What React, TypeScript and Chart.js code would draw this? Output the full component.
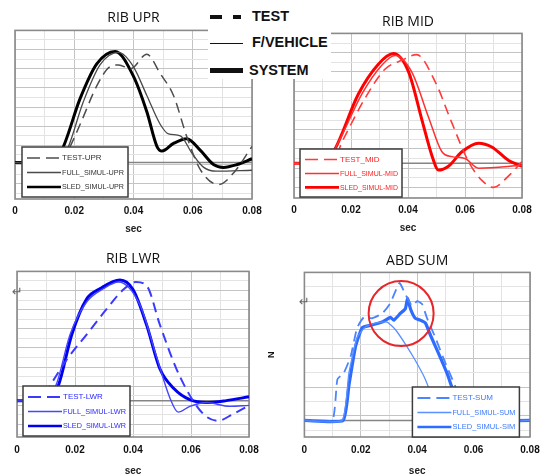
import { useEffect, useRef } from "react";
import { Chart, registerables } from "chart.js";
Chart.register(...registerables);

// ---------------- data ----------------
const X_TICK_VALUES = [0, 0.01, 0.02, 0.03, 0.04, 0.05, 0.06, 0.07, 0.08];
const X_TICK_LABELS = ["0", "", "0.02", "", "0.04", "", "0.06", "", "0.08"];
const X_TITLE = "sec";
const Y_TITLE_SUM = "N";

const TITLES = ["RIB UPR", "RIB MID", "RIB LWR", "ABD SUM"];
const LABELS_UPR = ["TEST-UPR", "FULL_SIMUL-UPR", "SLED_SIMUL-UPR"];
const LABELS_MID = ["TEST_MID", "FULL_SIMUL-MID", "SLED_SIMUL-MID"];
const LABELS_LWR = ["TEST-LWR", "FULL_SIMUL-LWR", "SLED_SIMUL-LWR"];
const LABELS_SUM = ["TEST-SUM", "FULL_SIMUL-SUM", "SLED_SIMUL-SIM"];
const TOP_LEGEND = ["TEST", "F/VEHICLE", "SYSTEM"];

// RIB UPR
const UPR_TEST_T = [0, 0.0155, 0.018, 0.022, 0.0276, 0.032, 0.035, 0.039, 0.0445, 0.049, 0.0535, 0.058, 0.0625, 0.0687, 0.074, 0.08];
const UPR_TEST_V = [0, 0, 1.3, 4.0, 8.0, 10.0, 10.2, 9.8, 11.3, 9.3, 7.0, 2.7, -0.7, -2.3, -1.0, 1.7];
const UPR_FULL_T = [0, 0.013, 0.0175, 0.023, 0.0287, 0.035, 0.04, 0.0445, 0.049, 0.0518, 0.0558, 0.0597, 0.0637, 0.068, 0.08];
const UPR_FULL_V = [0, 0, 1.3, 6.3, 10.2, 11.5, 10.0, 7.0, 4.0, 3.0, 2.8, 1.0, -0.5, -0.9, -0.8];
const UPR_SLED_T = [0, 0.012, 0.0158, 0.022, 0.0276, 0.0338, 0.04, 0.0445, 0.0479, 0.0496, 0.0535, 0.058, 0.0625, 0.067, 0.0704, 0.075, 0.08];
const UPR_SLED_V = [0, 0, 1.3, 6.7, 10.3, 11.6, 9.0, 5.3, 1.7, 1.2, 2.0, 2.5, 1.3, -0.2, -0.5, -0.2, 0.4];

// RIB MID
const MID_TEST_T = [0, 0.013, 0.0173, 0.025, 0.032, 0.0378, 0.043, 0.0495, 0.0554, 0.0612, 0.066, 0.07, 0.0753, 0.08];
const MID_TEST_V = [0, 0, 2.5, 6.8, 9.8, 10.7, 11.3, 8.5, 4.2, 0.2, -1.8, -2.5, -1.3, 0.2];
const MID_FULL_T = [0, 0.011, 0.0156, 0.0238, 0.0308, 0.0355, 0.0413, 0.0472, 0.0519, 0.0554, 0.06, 0.0648, 0.08];
const MID_FULL_V = [0, 0, 2.2, 7.2, 10.2, 11.2, 9.5, 4.8, 1.2, 0.7, 0.5, -0.5, -0.2];
const MID_SLED_T = [0, 0.0105, 0.0144, 0.0226, 0.0296, 0.0349, 0.0402, 0.0449, 0.0484, 0.0507, 0.0542, 0.0589, 0.0648, 0.0694, 0.0753, 0.08];
const MID_SLED_V = [0, 0, 1.5, 7.2, 10.3, 11.4, 9.5, 4.5, 0.8, -0.7, -0.3, 1.2, 2.1, 1.7, 0.3, -0.3];

// RIB LWR
const LWR_TEST_T = [0, 0.0085, 0.0115, 0.0172, 0.024, 0.031, 0.0367, 0.041, 0.0447, 0.0493, 0.055, 0.0607, 0.065, 0.0693, 0.0745, 0.08];
const LWR_TEST_V = [0, 0, 1.6, 4.3, 6.9, 9.6, 11.6, 12.4, 12.0, 7.9, 3.3, 0, -1.6, -2.1, -1.4, -0.5];
const LWR_FULL_T = [0, 0.0105, 0.0138, 0.0183, 0.024, 0.0298, 0.035, 0.0424, 0.0481, 0.0527, 0.0556, 0.0596, 0.0653, 0.0734, 0.08];
const LWR_FULL_V = [0, 0, 1.9, 6.9, 10.3, 11.7, 12.4, 10.0, 4.6, 0.3, -1.2, -0.6, -0.2, -0.6, -0.5];
const LWR_SLED_T = [0, 0.011, 0.0143, 0.0189, 0.024, 0.0287, 0.0355, 0.04, 0.0447, 0.0493, 0.054, 0.0596, 0.0653, 0.0722, 0.08];
const LWR_SLED_V = [0, 0, 1.6, 6.9, 10.6, 11.7, 12.6, 11.6, 7.9, 3.3, 1.3, 0.1, -0.2, 0, 0.4];

// ABD SUM
const SUM_TEST_T = [0, 0.0099, 0.0117, 0.014, 0.0164, 0.0187, 0.0211, 0.024, 0.0276, 0.0305, 0.0337, 0.0358, 0.0382, 0.04, 0.0417, 0.0435, 0.0464, 0.05, 0.0529, 0.0558, 0.06, 0.08];
const SUM_TEST_V = [0, 0, 4.3, 5.0, 6.7, 9.7, 10.8, 10.7, 11.2, 12.3, 14.4, 13.2, 12.0, 12.5, 12.2, 10.7, 8.7, 6.0, 4.0, 2.0, 0, 0];
const SUM_FULL_T = [0, 0.0134, 0.0158, 0.0187, 0.0217, 0.0252, 0.0293, 0.0323, 0.0358, 0.0393, 0.0429, 0.0464, 0.05, 0.053, 0.08];
const SUM_FULL_V = [0, 0, 5.0, 8.7, 9.8, 10.2, 10.3, 9.5, 8.0, 6.3, 4.3, 1.7, 0.3, 0, 0];
const SUM_SLED_T = [0, 0.0137, 0.0158, 0.0181, 0.0205, 0.024, 0.0276, 0.0305, 0.0317, 0.034, 0.0358, 0.0366, 0.0376, 0.0393, 0.0411, 0.0429, 0.0446, 0.0476, 0.0505, 0.0529, 0.056, 0.059, 0.08];
const SUM_SLED_V = [0, 0, 3.7, 7.7, 9.7, 10.0, 10.3, 10.8, 10.5, 11.2, 11.7, 12.8, 11.7, 10.7, 10.5, 10.2, 9.0, 7.0, 5.0, 3.0, 1.0, 0, 0];

// highlighted region (data coords) in ABD SUM
const SUM_CIRCLE_T = 0.0343;
const SUM_CIRCLE_V = 11.2;

// ---------------- layout / style ----------------
type Spec = {
  title: string;
  labels: string[];
  series: { t: number[]; v: number[] }[];
  colors: string[];
  widths: number[];
  textColor: string;
  plot: { l: number; t: number; r: number; b: number };
  yMin: number;
  yMax: number;
  yStep: number;
  titleGap: number;
  xTickPad: number;
  xTitlePadTop: number;
  legend: { dx: number; dy: number; w: number; h: number };
  yTitle?: string;
  circle?: { t: number; v: number; r: number };
  tension: number;
  monotone: boolean;
};

const SPECS: Spec[] = [
  {
    title: TITLES[0], labels: LABELS_UPR,
    series: [{ t: UPR_TEST_T, v: UPR_TEST_V }, { t: UPR_FULL_T, v: UPR_FULL_V }, { t: UPR_SLED_T, v: UPR_SLED_V }],
    colors: ["#4d4d4d", "#4a4a4a", "#000000"], widths: [1.5, 1.3, 3], textColor: "#333333",
    plot: { l: 15, t: 30, r: 252, b: 205 }, yMin: -3.8, yMax: 13.8, yStep: 1,
    titleGap: 12, xTickPad: 6, xTitlePadTop: 0,
    legend: { dx: 7, dy: 2, w: 106, h: 50 }, tension: 0.4, monotone: true,
  },
  {
    title: TITLES[1], labels: LABELS_MID,
    series: [{ t: MID_TEST_T, v: MID_TEST_V }, { t: MID_FULL_T, v: MID_FULL_V }, { t: MID_SLED_T, v: MID_SLED_V }],
    colors: ["#ff3b3b", "#ff3030", "#ff0000"], widths: [1.6, 1.5, 3], textColor: "#ff2020",
    plot: { l: 294, t: 33, r: 522, b: 204 }, yMin: -3.6, yMax: 13.5, yStep: 1,
    titleGap: 11, xTickPad: 6, xTitlePadTop: 0,
    legend: { dx: 6, dy: 1, w: 102, h: 48 }, tension: 0.4, monotone: true,
  },
  {
    title: TITLES[2], labels: LABELS_LWR,
    series: [{ t: LWR_TEST_T, v: LWR_TEST_V }, { t: LWR_FULL_T, v: LWR_FULL_V }, { t: LWR_SLED_T, v: LWR_SLED_V }],
    colors: ["#3a3aff", "#4646ff", "#0000f0"], widths: [2, 1.4, 3], textColor: "#2a2aff",
    plot: { l: 17, t: 271, r: 249, b: 444 }, yMin: -3.8, yMax: 13.5, yStep: 1,
    titleGap: 12, xTickPad: 7, xTitlePadTop: 2,
    legend: { dx: 6, dy: 1, w: 107, h: 50 }, tension: 0.4, monotone: true,
  },
  {
    title: TITLES[3], labels: LABELS_SUM,
    series: [{ t: SUM_TEST_T, v: SUM_TEST_V }, { t: SUM_FULL_T, v: SUM_FULL_V }, { t: SUM_SLED_T, v: SUM_SLED_V }],
    colors: ["#4a84ff", "#5a90ff", "#2e6cff"], widths: [1.8, 1.3, 3.2], textColor: "#3c78ff",
    plot: { l: 304, t: 272, r: 530, b: 444 }, yMin: -1.73, yMax: 15.5, yStep: 1.5,
    titleGap: 11, xTickPad: 7, xTitlePadTop: 2,
    legend: { dx: 108, dy: 0, w: 107, h: 50 }, yTitle: Y_TITLE_SUM,
    circle: { t: SUM_CIRCLE_T, v: SUM_CIRCLE_V, r: 32.5 }, tension: 0.15, monotone: false,
  },
];

const PAD = { left: 15, right: 20, bottom: 4 };
const TITLE_FONT_SIZE = 14;
const Y_TITLE_FONT = 9;
const N_CENTER_X = 271;

function geometry(spec: Spec) {
  const titleLH = TITLE_FONT_SIZE * 1.2;
  const titleTop = 2;
  const titleBottom = spec.titleGap - titleLH / 2;
  const topSpace = titleTop + titleLH + titleBottom;
  let yAxisW = 0;
  let padLeft = PAD.left;
  let yPadBottom = 0;
  if (spec.yTitle) {
    padLeft = 10;
  }
  let left = spec.plot.l - padLeft;
  if (spec.yTitle) {
    left = N_CENTER_X - padLeft - (Y_TITLE_FONT * 1.2) / 2;
    yAxisW = spec.plot.l - left - padLeft;
    yPadBottom = yAxisW - Y_TITLE_FONT * 1.2;
  }
  const xAxisH = 12 + spec.xTickPad + 12 + spec.xTitlePadTop;
  const top = spec.plot.t - topSpace;
  const width = spec.plot.r - left + PAD.right;
  const height = topSpace + (spec.plot.b - spec.plot.t) + xAxisH + PAD.bottom;
  return { left, top, width, height, titleTop, titleBottom, padLeft, yPadBottom };
}

function makeDecor(spec: Spec) {
  return {
    id: "decor",
    beforeDatasetsDraw(chart: any) {
      const { ctx, chartArea: a, scales } = chart;
      ctx.save();
      ctx.strokeStyle = "#8a8a8a";
      ctx.lineWidth = 1.6;
      ctx.strokeRect(a.left, a.top, a.right - a.left, a.bottom - a.top);
      const y0 = scales.y.getPixelForValue(0);
      ctx.strokeStyle = "#858585";
      ctx.lineWidth = 1.5;
      ctx.beginPath();
      ctx.moveTo(a.left, y0);
      ctx.lineTo(a.right, y0);
      ctx.stroke();
      ctx.restore();
    },
    afterDatasetsDraw(chart: any) {
      const { ctx, chartArea: a, scales } = chart;
      const L = spec.legend;
      const x = a.left + L.dx;
      const y = a.bottom - L.dy - L.h;
      ctx.save();
      ctx.fillStyle = "#ffffff";
      ctx.fillRect(x, y, L.w, L.h);
      ctx.strokeStyle = "#3c3c3c";
      ctx.lineWidth = 1.5;
      ctx.strokeRect(x, y, L.w, L.h);
      chart.data.datasets.forEach((ds: any, i: number) => {
        const ry = y + L.h * (0.22 + i * 0.29);
        ctx.strokeStyle = ds.borderColor;
        ctx.lineWidth = Math.min(ds.borderWidth, 2.6);
        ctx.setLineDash(i === 0 ? [13, 6] : []);
        ctx.beginPath();
        ctx.moveTo(x + 5, ry);
        ctx.lineTo(x + 39, ry);
        ctx.stroke();
        ctx.setLineDash([]);
        ctx.fillStyle = spec.textColor;
        ctx.font = '8px "Liberation Sans Narrow", "Liberation Sans", sans-serif';
        ctx.textBaseline = "middle";
        const text = ds.label;
        const maxW = L.w - 44;
        const w = ctx.measureText(text).width;
        ctx.save();
        ctx.translate(x + 40, ry);
        if (w > maxW) ctx.scale(maxW / w, 1);
        ctx.fillText(text, 0, 0);
        ctx.restore();
      });
      if (spec.circle) {
        const cx = scales.x.getPixelForValue(spec.circle.t);
        const cy = scales.y.getPixelForValue(spec.circle.v);
        ctx.strokeStyle = "#e8262a";
        ctx.lineWidth = 2;
        ctx.beginPath();
        ctx.arc(cx, cy, spec.circle.r, 0, Math.PI * 2);
        ctx.stroke();
      }
      ctx.restore();
    },
  };
}

function buildConfig(spec: Spec, g: ReturnType<typeof geometry>) {
  const datasets = spec.series.map((s, i) => ({
    label: spec.labels[i],
    data: s.t.map((t, k) => ({ x: t, y: s.v[k] })),
    borderColor: spec.colors[i],
    borderWidth: spec.widths[i],
    borderDash: i === 0 ? [10, 6] : [],
    borderCapStyle: "butt",
    borderJoinStyle: "round",
    pointRadius: 0,
    fill: false,
    tension: spec.tension,
    cubicInterpolationMode: spec.monotone ? "monotone" : "default",
  }));
  const gridMajor = "#c4c4c4";
  const gridMinor = "#e3e3e3";
  return {
    type: "line",
    data: { datasets },
    plugins: [makeDecor(spec)],
    options: {
      responsive: false,
      animation: false,
      events: [],
      layout: { padding: { left: g.padLeft, right: PAD.right, top: 0, bottom: PAD.bottom } },
      plugins: {
        legend: { display: false },
        tooltip: { enabled: false },
        title: {
          display: true,
          text: spec.title,
          fullSize: false,
          color: "#111",
          font: { family: "Open Sans", size: TITLE_FONT_SIZE, weight: "normal" },
          padding: { top: g.titleTop, bottom: g.titleBottom },
        },
      },
      scales: {
        x: {
          type: "linear",
          min: 0,
          max: 0.08,
          afterBuildTicks: (scale: any) => {
            scale.ticks = X_TICK_VALUES.map((v) => ({ value: v }));
          },
          ticks: {
            autoSkip: false,
            maxRotation: 0,
            padding: spec.xTickPad,
            color: "#111",
            font: { family: "Liberation Sans", size: 10, weight: "bold" },
            callback: (_v: any, i: number) => X_TICK_LABELS[i],
          },
          grid: {
            drawTicks: false,
            lineWidth: 1,
            color: (c: any) => (c.index % 2 === 0 ? gridMajor : gridMinor),
          },
          border: { display: false },
          title: {
            display: true,
            text: X_TITLE,
            color: "#222",
            font: { family: "Liberation Sans", size: 10, weight: "bold" },
            padding: { top: spec.xTitlePadTop, bottom: 0 },
          },
        },
        y: {
          type: "linear",
          min: spec.yMin,
          max: spec.yMax,
          afterBuildTicks: (scale: any) => {
            const ticks = [];
            for (let k = 0; spec.yMax - k * spec.yStep >= spec.yMin - 1e-9; k++) {
              ticks.push({ value: spec.yMax - k * spec.yStep });
            }
            scale.ticks = ticks.reverse();
          },
          ticks: { display: false },
          grid: {
            drawTicks: false,
            lineWidth: 1,
            color: (c: any) => {
              const k = c.tick ? Math.round((spec.yMax - c.tick.value) / spec.yStep) : 0;
              return k % 2 === 0 ? gridMajor : gridMinor;
            },
          },
          border: { display: false },
          title: spec.yTitle
            ? {
                display: true,
                text: spec.yTitle,
                color: "#111",
                font: { family: "Liberation Sans", size: Y_TITLE_FONT, weight: "bold" },
                padding: { top: 0, bottom: g.yPadBottom },
              }
            : { display: false },
        },
      },
    },
  };
}

function Panel({ spec }: { spec: Spec }) {
  const ref = useRef<HTMLCanvasElement | null>(null);
  const g = geometry(spec);
  useEffect(() => {
    if (!ref.current) return;
    const chart = new Chart(ref.current, buildConfig(spec, g) as any);
    return () => chart.destroy();
  }, []);
  return (
    <canvas
      ref={ref}
      width={Math.round(g.width)}
      height={Math.round(g.height)}
      style={{ position: "absolute", left: g.left, top: g.top, width: Math.round(g.width), height: Math.round(g.height) }}
    />
  );
}

const legendText: any = {
  position: "absolute",
  font: 'bold 14.5px "Liberation Sans", Arial, sans-serif',
  lineHeight: "16px",
  color: "#111",
  whiteSpace: "nowrap",
};

const returnMark: any = {
  position: "absolute",
  font: '13px "DejaVu Sans", sans-serif',
  lineHeight: "13px",
  color: "#666",
  zIndex: 5,
};

export default function App() {
  return (
    <div style={{ position: "absolute", left: 0, top: 0, width: 544, height: 476, background: "#fff", overflow: "hidden" }}>
      {SPECS.map((s, i) => (
        <Panel key={i} spec={s} />
      ))}
      <div style={{ position: "absolute", left: 208, top: 0, width: 123, height: 79, background: "#fff", zIndex: 5 }}>
        <svg width={123} height={79} style={{ position: "absolute", left: 0, top: 0 }}>
          <line x1={2} y1={17} x2={14} y2={17} stroke="#111" strokeWidth={4} />
          <line x1={25} y1={17} x2={33} y2={17} stroke="#111" strokeWidth={4} />
          <line x1={2} y1={43.5} x2={35} y2={43.5} stroke="#111" strokeWidth={1.2} />
          <line x1={2} y1={70.5} x2={35} y2={70.5} stroke="#111" strokeWidth={5} />
        </svg>
        <div style={{ ...legendText, left: 44, top: 8 }}>{TOP_LEGEND[0]}</div>
        <div style={{ ...legendText, left: 44, top: 34 }}>{TOP_LEGEND[1]}</div>
        <div style={{ ...legendText, left: 41, top: 62 }}>{TOP_LEGEND[2]}</div>
      </div>
      <span style={{ ...returnMark, left: 12, top: 285 }}>↵</span>
      <span style={{ ...returnMark, left: 299, top: 295 }}>↵</span>
    </div>
  );
}
